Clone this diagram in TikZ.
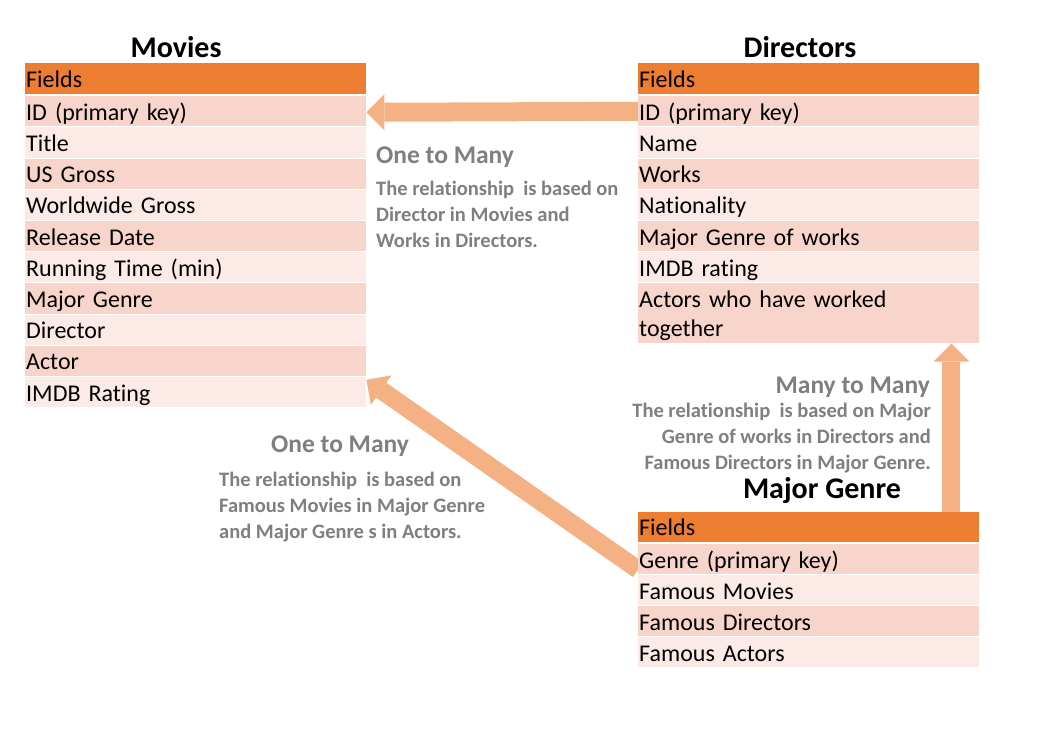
\documentclass[tikz,border=0pt]{standalone}
\usepackage{fontspec}
\setmainfont{Carlito}[Ligatures=NoCommon]
\usepackage{tikz}
\usepackage{xcolor}
\usetikzlibrary{arrows.meta,backgrounds,positioning}
\definecolor{headorange}{HTML}{ED7D31}
\definecolor{banddark}{HTML}{F8D5CB}
\definecolor{bandlight}{HTML}{FBEAE5}
\definecolor{linkorange}{HTML}{F4B183}
\definecolor{notegrey}{HTML}{7F7F7F}
\tikzset{%
	cell/.style      = {anchor=north west, inner xsep=1pt, inner ysep=0pt, text width=339pt, align=left, minimum height=30.2pt, text height=20pt, text depth=2pt, font=\fontsize{24}{29}\selectfont},
	fieldrow/.style  = {cell, fill=headorange, minimum height=31pt},
	rowdark/.style   = {cell, fill=banddark},
	rowlight/.style  = {cell, fill=bandlight},
	tabletitle/.style= {anchor=base, inner sep=0pt, font=\fontsize{30}{34}\selectfont\bfseries},
	relhead/.style   = {inner sep=0pt, text=notegrey, font=\fontsize{25.5}{30}\selectfont\bfseries},
	reltext/.style   = {inner sep=0pt, text=notegrey, font=\fontsize{20.5}{26}\selectfont\bfseries, execute at begin node=\strut},
	relarrow/.style  = {draw=linkorange, line width=19pt, -{Triangle[length=18pt,width=36pt,line width=0pt]}},
}
\begin{document}
\begin{tikzpicture}[x=1pt,y=-1pt]
	\useasboundingbox (0,0) rectangle (1040,740);
	% Movies
	\node (movTitle) at (176,57) [tabletitle] {Movies};
	\node (movFields) at (25,63) [fieldrow] {Fields};
	\node (movID) at (25,96) [rowdark] {ID (primary key)};
	\node (movTitleRow) at (25,127.2) [rowlight] {Title};
	\node (movUS) at (25,158.4) [rowdark] {US Gross};
	\node (movWorld) at (25,189.6) [rowlight] {Worldwide Gross};
	\node (movRelease) at (25,220.8) [rowdark] {Release Date};
	\node (movRunning) at (25,252) [rowlight] {Running Time (min)};
	\node (movGenre) at (25,283.2) [rowdark] {Major Genre};
	\node (movDirector) at (25,314.4) [rowlight] {Director};
	\node (movActor) at (25,345.6) [rowdark] {Actor};
	\node (movIMDB) at (25,376.8) [rowlight] {IMDB Rating};
	% Directors
	\node (dirTitle) at (800,57) [tabletitle] {Directors};
	\node (dirFields) at (638,63) [fieldrow] {Fields};
	\node (dirID) at (638,96) [rowdark] {ID (primary key)};
	\node (dirName) at (638,127.2) [rowlight] {Name};
	\node (dirWorks) at (638,158.4) [rowdark] {Works};
	\node (dirNation) at (638,189.6) [rowlight] {Nationality};
	\node (dirGenre) at (638,220.8) [rowdark] {Major Genre of works};
	\node (dirIMDB) at (638,252) [rowlight] {IMDB rating};
	\node (dirActors) at (638,283.2) [rowdark, minimum height=60pt, text depth=31pt] {Actors who have worked\\together};
	% Major Genre
	\node (genTitle) at (822,498) [tabletitle] {Major Genre};
	\node (genFields) at (638,512) [fieldrow, minimum height=29.5pt] {Fields};
	\node (genKey) at (638,544) [rowdark] {Genre (primary key)};
	\node (genMovies) at (638,575) [rowlight] {Famous Movies};
	\node (genDirectors) at (638,606) [rowdark] {Famous Directors};
	\node (genActors) at (638,637) [rowlight] {Famous Actors};
	% relationships, behind the tables
	\begin{scope}[on background layer]
	\fill[white] (0,0) rectangle (1040,740);
	\draw[relarrow] (dirID.west) -- ([yshift=-1pt]movID.east);
	\draw[relarrow, line width=18pt] ([xshift=-28pt]genFields.north east) -- ([xshift=-28pt]dirActors.south east);
	\draw[relarrow, line width=18pt] ([yshift=5pt]genKey.south west) -- ([yshift=-3pt]movIMDB.north east);
	\end{scope}
	\node (dirLinkHead) at (376,163) [relhead, anchor=base west] {One to Many};
	\node (dirLinkText) at (376,181) [reltext, anchor=north west, align=left] {The relationship\ \ is based on\\Director in Movies and\\Works in Directors.};
	\node (genDirHead) at (930,393) [relhead, anchor=base east] {Many to Many};
	\node (genDirText) at (931,403) [reltext, anchor=north east, align=right] {The relationship\ \ is based on Major\\Genre of works in Directors and\\Famous Directors in Major Genre.};
	\node (genMovHead) at (340,452) [relhead, anchor=base] {One to Many};
	\node (genMovText) at (219,471.5) [reltext, anchor=north west, align=left] {The relationship\ \ is based on\\Famous Movies in Major Genre\\and Major Genre s in Actors.};
\end{tikzpicture}
\end{document}
